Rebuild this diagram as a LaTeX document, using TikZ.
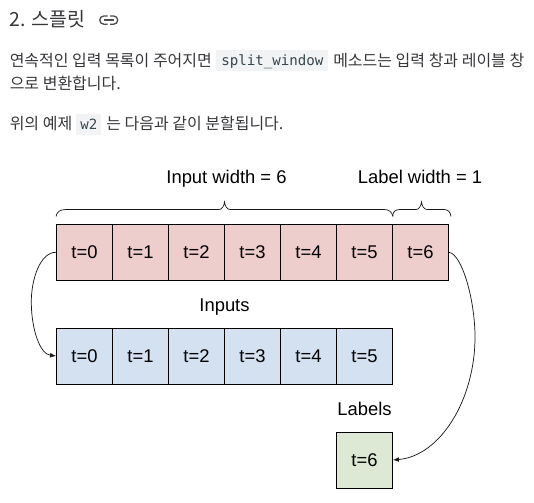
\documentclass[tikz,border=0pt]{standalone}
\usepackage{fontspec}
\setmainfont{Liberation Sans}
\newfontfamily\krfont{Noto Sans CJK KR}[Scale=1]
\newfontfamily\monofont{DejaVu Sans Mono}
\usetikzlibrary{arrows.meta}
\definecolor{redfill}{HTML}{EECECD}
\definecolor{bluefill}{HTML}{D4E1F1}
\definecolor{greenfill}{HTML}{DDE8D5}
\definecolor{bodytext}{HTML}{202124}
\definecolor{codebg}{HTML}{F1F3F4}
\definecolor{codetext}{HTML}{37474F}
\tikzset{
  cell/.style={draw=black,line width=0.6pt,minimum width=42pt,minimum height=42pt,inner sep=0pt,font=\fontsize{13.8pt}{16pt}\selectfont,text=black},
  redcell/.style={cell,fill=redfill},
  bluecell/.style={cell,fill=bluefill},
  greencell/.style={cell,fill=greenfill},
  captext/.style={anchor=base,inner sep=0pt,font=\fontsize{13.8pt}{16pt}\selectfont,text=black},
  body/.style={anchor=base west,inner sep=0pt,text=bodytext!90,font=\krfont\fontsize{12pt}{14pt}\selectfont},
  codebox/.style={anchor=base west,inner ysep=0pt,inner xsep=3.75pt,fill=codebg,text=codetext,text height=11.8pt,text depth=4pt,font=\monofont\fontsize{10.6pt}{12pt}\selectfont},
  brace/.style={draw=black!90,line width=0.55pt},
  flow/.style={draw=black!90,line width=0.55pt,-{Latex[length=4.5pt,width=3.6pt]}},
  linkicon/.style={draw=bodytext!80,line width=1pt,rounded corners=3pt}
}
\begin{document}
\begin{tikzpicture}[x=0.75pt,y=-0.75pt]
\useasboundingbox (0,0) rectangle (534,502);
% heading
\node[body,font=\krfont\fontsize{14.6pt}{17pt}\selectfont] (head) at (9,26.3) {2. 스플릿};
\draw[linkicon] (107.5,16) -- (99.8,16) -- (99.8,24.2) -- (107.5,24.2);
\draw[linkicon] (110,16) -- (117.7,16) -- (117.7,24.2) -- (110,24.2);
\draw[bodytext!80,line width=1pt] (104,20.1) -- (113.5,20.1);
% paragraph
\node[body] (p1a) at (9.5,66.5) {연속적인 입력 목록이 주어지면};
\node[codebox] (code1) at (216,65.7) {split\_window};
\node[body] (p1b) at (333,66.5) {메소드는 입력 창과 레이블 창};
\node[body] (p2) at (9.5,90) {으로 변환합니다.};
\node[body] (p3a) at (9.5,130) {위의 예제};
\node[codebox,inner xsep=3pt] (code2) at (76,129.3) {w2};
\node[body] (p3b) at (106,130) {는 다음과 같이 분할됩니다.};
% captions
\node[captext] (inw) at (226.5,184) {Input width = 6};
\node[captext] (lbw) at (420,183.6) {Label width = 1};
\node[captext] (inp) at (224.5,311.7) {Inputs};
\node[captext] (lab) at (364.5,415) {Labels};
% red row
\foreach \i in {0,...,6} {
  \node[redcell] (r\i) at ({84.5+56*\i},252.3) {t=\i};
}
% blue row
\foreach \i in {0,...,5} {
  \node[bluecell] (b\i) at ({84.5+56*\i},356) {t=\i};
}
\node[greencell] (g6) at (364.5,460) {t=6};
% braces
\coordinate (bi1) at (r0.north west);
\coordinate (bi2) at (r5.north east);
\coordinate (bl2) at (r6.north east);
\draw[brace] ([yshift=5.6pt]bi1) .. controls (56.5,212) and (60,209.5) .. (66,209.5) -- (219,209.5) .. controls (222,209.5) and (224,206) .. (224.5,202) .. controls (225,206) and (227,209.5) .. (230,209.5) -- (384,209.5) .. controls (389,209.5) and (392,212) .. ([yshift=5.6pt]bi2);
\draw[brace] ([yshift=5.6pt]bi2) .. controls (392.5,212) and (395,209.5) .. (400,209.5) -- (416,209.5) .. controls (419,209.5) and (421,206) .. (421.5,202) .. controls (422,206) and (424,209.5) .. (427,209.5) -- (444,209.5) .. controls (448,209.5) and (450.5,212) .. ([xshift=1.5pt,yshift=5.6pt]bl2);
% connectors
\draw[flow] (r0.west) .. controls (40,252) and (31,280) .. (31.3,303) .. controls (31.6,330) and (40,354) .. (b0.west);
\draw[flow] (r6.east) .. controls (462,254) and (475,300) .. (475,337) .. controls (475,400) and (440,456) .. (g6.east);
\end{tikzpicture}
\end{document}
